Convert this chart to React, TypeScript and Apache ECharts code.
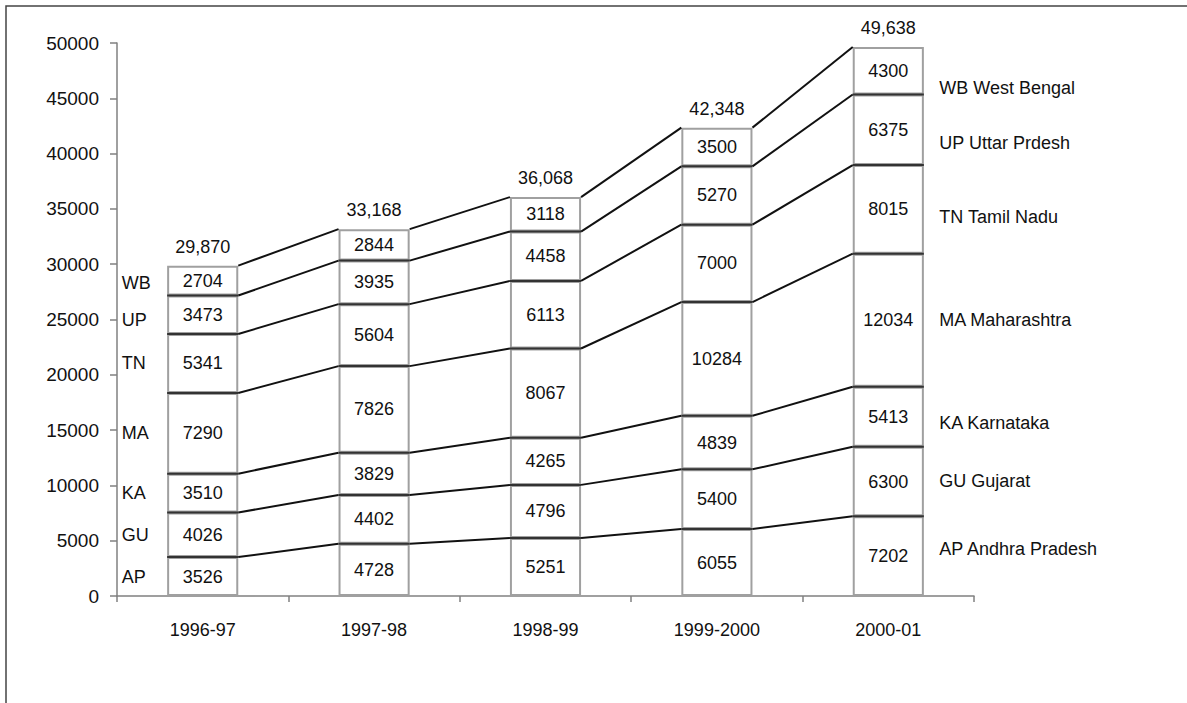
import React, { useEffect, useRef } from "react";
import * as echarts from "echarts";

const categories = ["1996-97", "1997-98", "1998-99", "1999-2000", "2000-01"];
const stateCodes = ["AP", "GU", "KA", "MA", "TN", "UP", "WB"];
const stateNames = [
  "AP Andhra Pradesh",
  "GU Gujarat",
  "KA Karnataka",
  "MA Maharashtra",
  "TN Tamil Nadu",
  "UP Uttar Prdesh",
  "WB West Bengal",
];
const AP = [3526, 4728, 5251, 6055, 7202];
const GU = [4026, 4402, 4796, 5400, 6300];
const KA = [3510, 3829, 4265, 4839, 5413];
const MA = [7290, 7826, 8067, 10284, 12034];
const TN = [5341, 5604, 6113, 7000, 8015];
const UP = [3473, 3935, 4458, 5270, 6375];
const WB = [2704, 2844, 3118, 3500, 4300];
const totals = [29870, 33168, 36068, 42348, 49638];
const totalLabels = ["29,870", "33,168", "36,068", "42,348", "49,638"];

const FONT = "'Liberation Sans', Arial, sans-serif";
const FS = 18;
const TXT = "#111";
const BAR_FRAC = 0.415;
// label fine offsets (layout only)
const rightDy = [-7, -1, 6, 0, 8, 13, 17];
const leftDy = [0, 0, 0, 0, 0, 5, 2];

export default function App() {
  const ref = useRef<HTMLDivElement>(null);
  useEffect(() => {
    if (!ref.current) return;
    const chart = echarts.init(ref.current, undefined, { renderer: "svg" });
    const seriesData = [AP, GU, KA, MA, TN, UP, WB];
    const cum: number[][] = [];
    seriesData.forEach((arr, k) => {
      cum.push(arr.map((v, i) => (k === 0 ? 0 : cum[k - 1][i]) + v));
    });

    const barSeries = seriesData.map((arr, k) => ({
      type: "bar",
      name: stateCodes[k],
      stack: "total",
      barWidth: BAR_FRAC * 100 + "%",
      data: arr,
      itemStyle: { color: "#ffffff", borderColor: "#a0a0a0", borderWidth: 2 },
      label: {
        show: true,
        position: "inside",
        color: TXT,
        fontSize: FS,
        fontFamily: FONT,
        formatter: (p: any) => String(p.value),
      },
      z: 2,
    }));

    const lineData: any[] = [];
    for (let k = 0; k < 7; k++) {
      for (let i = 0; i < categories.length; i++) {
        lineData.push([i, cum[k][i], i < categories.length - 1 ? cum[k][i + 1] : cum[k][i], k]);
      }
    }

    const seriesLines = {
      type: "custom",
      name: "lines",
      data: lineData,
      encode: { x: 0, y: 1 },
      z: 5,
      silent: true,
      renderItem: (params: any, api: any) => {
        const i = api.value(0);
        const v1 = api.value(1);
        const v2 = api.value(2);
        const k = api.value(3);
        const p1 = api.coord([i, v1]);
        const band = api.size([1, 0])[0];
        const hw = (band * BAR_FRAC) / 2;
        const children: any[] = [];
        if (k < 6) {
          children.push({
            type: "line",
            shape: { x1: p1[0] - hw, y1: p1[1], x2: p1[0] + hw, y2: p1[1] },
            style: { stroke: "#333", lineWidth: 2 },
          });
        }
        if (i < categories.length - 1) {
          const p2 = api.coord([i + 1, v2]);
          children.push({
            type: "line",
            shape: { x1: p1[0] + hw, y1: p1[1], x2: p2[0] - hw, y2: p2[1] },
            style: { stroke: "#111", lineWidth: 2 },
          });
        }
        return { type: "group", children };
      },
    };

    const totalSeries = {
      type: "scatter",
      name: "totals",
      symbolSize: 0,
      itemStyle: { opacity: 1 },
      data: totals.map((t, i) => [i, t]),
      label: {
        show: true,
        position: "top",
        distance: 10,
        color: TXT,
        fontSize: FS,
        fontFamily: FONT,
        formatter: (p: any) => totalLabels[p.dataIndex],
      },
      z: 6,
    };

    const stateLabelData: any[] = [];
    for (let k = 0; k < 7; k++) {
      const mid0 = cum[k][0] - seriesData[k][0] / 2;
      const last = categories.length - 1;
      const midL = cum[k][last] - seriesData[k][last] / 2;
      stateLabelData.push({
        value: [0, mid0],
        label: {
          show: true,
          position: "inside",
          align: "left",
          offset: [-81, leftDy[k]],
          color: TXT,
          fontSize: FS,
          fontFamily: FONT,
          formatter: stateCodes[k],
        },
      });
      stateLabelData.push({
        value: [last, midL],
        label: {
          show: true,
          position: "inside",
          align: "left",
          offset: [51, rightDy[k]],
          color: TXT,
          fontSize: FS,
          fontFamily: FONT,
          formatter: stateNames[k],
        },
      });
    }
    const stateLabels = {
      type: "scatter",
      name: "stateLabels",
      symbolSize: 0,
      itemStyle: { opacity: 1 },
      data: stateLabelData,
      label: { show: true, color: TXT, fontSize: FS, fontFamily: FONT },
      z: 6,
    };

    chart.setOption({
      animation: false,
      backgroundColor: "#ffffff",
      textStyle: { fontFamily: FONT },
      grid: { left: 117, right: 213, top: 43, bottom: 107 },
      xAxis: {
        type: "category",
        data: categories,
        axisLine: { lineStyle: { color: "#808080", width: 1.5 } },
        axisTick: { show: true, length: 6, lineStyle: { color: "#808080", width: 1.5 } },
        axisLabel: { color: TXT, fontSize: FS, margin: 25, fontFamily: FONT },
      },
      yAxis: {
        type: "value",
        min: 0,
        max: 50000,
        interval: 5000,
        splitLine: { show: false },
        axisLine: { show: true, lineStyle: { color: "#808080", width: 1.5 } },
        axisTick: { show: true, length: 7, lineStyle: { color: "#808080", width: 1.5 } },
        axisLabel: {
          color: TXT,
          fontSize: 19,
          margin: 18,
          fontFamily: FONT,
          formatter: (v: number) => String(v),
        },
      },
      graphic: [
        {
          type: "rect",
          shape: { x: 6, y: 6, width: 1300, height: 800 },
          style: { fill: "none", stroke: "#444", lineWidth: 1.5 },
          silent: true,
        },
      ],
      series: [...barSeries, seriesLines, totalSeries, stateLabels],
    });
    return () => chart.dispose();
  }, []);
  return (
    <div
      ref={ref}
      style={{ position: "absolute", left: 0, top: 0, width: 1187, height: 703 }}
    />
  );
}
